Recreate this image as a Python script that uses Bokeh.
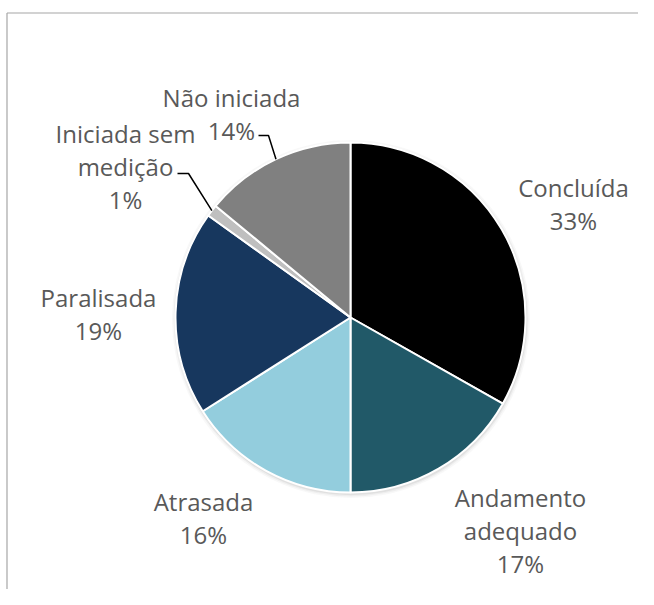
import math
from bokeh.plotting import figure
from bokeh.models import Range1d
from bokeh.core.properties import value
from bokeh.embed import file_html
from bokeh.resources import INLINE

# ---- data ----
categories = ["Concluída", "Andamento adequado", "Atrasada", "Paralisada",
              "Iniciada sem medição", "Não iniciada"]
values = [33.2, 16.8, 16.0, 18.9, 1.1, 14.0]
colors = ["#000000", "#215968", "#93CDDD", "#17375E", "#BFBFBF", "#808080"]
label_lines = [["Concluída"], ["Andamento", "adequado"], ["Atrasada"],
               ["Paralisada"], ["Iniciada sem", "medição"], ["Não iniciada"]]

# ---- layout (image pixel coordinates, y downward) ----
FW, FH = 638, 589
CX, CY, R = 350, 317, 175
label_anchor = [(573, 187), (520, 497), (203, 501), (98, 297), (125, 133), (231, 97)]
LINE_H = 33
leader = {4: [(177, 173), (188, 173)], 5: [(258, 135), (268, 135)]}

def Y(y):
    return FH - y

p = figure(width=FW, height=FH, output_backend="svg", toolbar_location=None,
           x_range=Range1d(0, FW), y_range=Range1d(0, FH),
           min_border=0, outline_line_color=None)
p.axis.visible = False
p.grid.visible = False
p.background_fill_color = "white"
p.border_fill_color = "white"

# chart frame (top and left edges visible)
p.line([6.5, FW], [Y(12.5), Y(12.5)], line_color="#A6A6A6", line_width=1.2)
p.line([6.5, 6.5], [Y(12.5), Y(FH)], line_color="#A6A6A6", line_width=1.2)

# soft shadow
for k, a in [(4.0, 0.05), (2.5, 0.08), (1.2, 0.12)]:
    p.circle(x=[CX + 0.5], y=[Y(CY + 1.5)], radius=R + k, fill_color="#7F7F7F",
             fill_alpha=a, line_color=None)

total = sum(values)
cum = 0.0
mids = []
for v, c in zip(values, colors):
    s = cum / total
    e = (cum + v) / total
    cum += v
    start = math.pi / 2 - e * 2 * math.pi
    end = math.pi / 2 - s * 2 * math.pi
    p.wedge(x=[CX], y=[Y(CY)], radius=R, start_angle=[start], end_angle=[end],
            fill_color=c, line_color="white", line_width=2)
    mids.append((s + e) / 2 * 2 * math.pi)

# labels
xs, ys, txt = [], [], []
for i, (lines, v) in enumerate(zip(label_lines, values)):
    allines = lines + [f"{round(v / total * 100)}%"]
    ax, ay = label_anchor[i]
    for j, t in enumerate(allines):
        xs.append(ax)
        ys.append(Y(ay + j * LINE_H))
        txt.append(t)
p.text(x=xs, y=ys, text=txt, text_font=value("Open Sans"), text_font_size="24px",
       text_color="#595959", text_align="center", text_baseline="middle")

# leader lines
for i, pts in leader.items():
    m = mids[i]
    ex = CX + R * math.sin(m)
    ey = CY - R * math.cos(m)
    lx = [pt[0] for pt in pts] + [ex]
    ly = [Y(pt[1]) for pt in pts] + [Y(ey)]
    p.line(lx, ly, line_color="#000000", line_width=1.5)

open("out.html", "w").write(file_html(p, INLINE))
